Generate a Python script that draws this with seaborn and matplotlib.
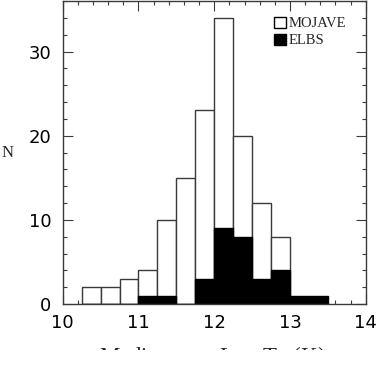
import numpy as np
import pandas as pd
import matplotlib
matplotlib.use("Agg")
import matplotlib.pyplot as plt
import seaborn as sns
from matplotlib.patches import Patch
from matplotlib.ticker import MultipleLocator
from matplotlib.transforms import Bbox

# Data (counts per 0.25 bin)
bin_edges = [10.25, 10.5, 10.75, 11.0, 11.25, 11.5, 11.75, 12.0, 12.25, 12.5, 12.75, 13.0, 13.25, 13.5]
bin_left = bin_edges[:-1]
mojave_counts = [2, 2, 3, 4, 10, 15, 23, 34, 20, 12, 8, 0, 0]
elbs_counts = [0, 0, 0, 1, 1, 0, 3, 9, 8, 3, 4, 1, 1]

df = pd.DataFrame({"logtb": bin_left, "MOJAVE": mojave_counts, "ELBS": elbs_counts})

sns.set_theme(style="ticks")
plt.rcParams["font.family"] = ["DejaVu Sans"]

fig = plt.figure(figsize=(3.78, 3.66), dpi=100)
ax = fig.add_axes([62.7 / 378, 1 - 304 / 366, (365.7 - 62.7) / 378, (304 - 1) / 366])

edge_col = "#3a3a3a"
sns.histplot(data=df, x="logtb", weights="MOJAVE", bins=bin_edges, stat="count",
             color="white", edgecolor=edge_col, linewidth=1.0, alpha=1, ax=ax)
sns.histplot(data=df, x="logtb", weights="ELBS", bins=bin_edges, stat="count",
             color="black", edgecolor="black", linewidth=1.0, alpha=1, ax=ax)

ax.set_xlim(10, 14)
ax.set_ylim(0, 36)
ax.xaxis.set_major_locator(MultipleLocator(1))
ax.xaxis.set_minor_locator(MultipleLocator(0.2))
ax.yaxis.set_major_locator(MultipleLocator(10))
ax.yaxis.set_minor_locator(MultipleLocator(2))
ax.tick_params(which="both", direction="in", top=True, right=True, color=edge_col, width=0.8)
ax.tick_params(which="major", length=7, labelsize=13, labelcolor="black")
ax.tick_params(axis="y", which="major", pad=8)
ax.tick_params(axis="x", which="major", pad=7)
ax.tick_params(which="minor", length=3)
for s in ax.spines.values():
    s.set_color(edge_col)
    s.set_linewidth(1.0)

ax.set_ylabel("")
ax.set_xlabel("")
fig.text(8 / 378, 1 - 153 / 366, "N", family="Liberation Serif", fontsize=12,
         ha="center", va="center")

xl = fig.text(212 / 378, 1 - 344 / 366, "Median core Log T$_\\mathrm{b}$ (K)",
              family="Liberation Serif", fontsize=16.5, ha="center", va="top")
xl.set_clip_box(Bbox([[0, 366 - 350], [378, 366]]))
xl.set_clip_on(True)

handles = [Patch(facecolor="white", edgecolor="black", linewidth=1.0, label="MOJAVE"),
           Patch(facecolor="black", edgecolor="black", linewidth=1.0, label="ELBS")]
leg = ax.legend(handles=handles, loc="upper left", frameon=False,
                bbox_to_anchor=(274 / 378, 1 - 17 / 366), bbox_transform=fig.transFigure,
                prop={"family": "Liberation Serif", "size": 10.5},
                handlelength=0.8, handleheight=0.75, handletextpad=0.2,
                labelspacing=0.25, borderaxespad=0.0, borderpad=0.0)

fig.savefig("out.png", dpi=100)
